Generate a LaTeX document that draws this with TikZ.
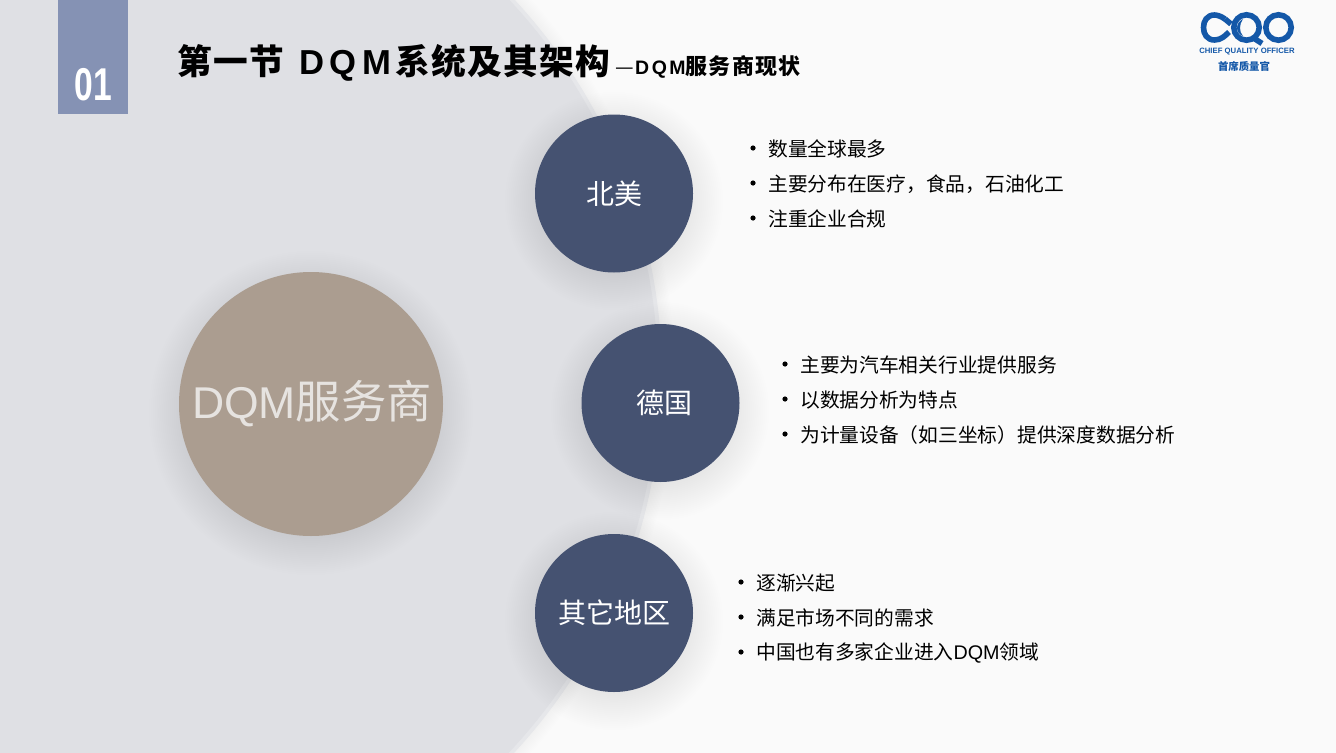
\documentclass[tikz,border=0pt]{standalone}
\usepackage{fontspec}
\setmainfont{Liberation Sans}
\newfontfamily\cjk{Noto Sans CJK SC}
\newfontfamily\cjkt[LetterSpace=4]{Noto Sans CJK SC}
\newfontfamily\cjks[LetterSpace=6]{Noto Sans CJK SC}
\newfontfamily\latt[LetterSpace=15]{Liberation Sans}
\newfontfamily\lats[LetterSpace=13]{Liberation Sans}
\definecolor{bgc}{HTML}{FAFAFA}
\definecolor{bigc}{HTML}{DFE0E4}
\definecolor{rimc}{HTML}{E6E7EA}
\definecolor{blockc}{HTML}{8592B4}
\definecolor{bluec}{HTML}{455271}
\definecolor{mainc}{HTML}{AB9D90}
\definecolor{maint}{HTML}{E6E3E0}
\definecolor{logoc}{HTML}{1458A8}
\newcommand{\softshadow}[3]{%
  \foreach \k in {1,...,24}{\fill[black,opacity=.0026] (#1,#2) circle ({#3+32-\k*1.9});}}
\tikzset{
  px/.style={x=.75pt,y=-.75pt},
  disc/.style={circle,minimum size=158*.75pt,inner sep=0pt,fill=bluec,text=white,font=\cjk\fontsize{21}{21}\selectfont},
  maindisc/.style={circle,minimum size=264*.75pt,inner sep=0pt,fill=mainc,text=maint,font=\fontsize{34}{34}\selectfont},
  line/.style={anchor=west,inner sep=0pt,text=black,font=\cjk\fontsize{14.8}{16}\selectfont},
  dotn/.style={circle,fill=black,inner sep=0pt,minimum size=3.9pt},
  ttl/.style={anchor=west,inner sep=0pt,text=black}
}
\begin{document}
\begin{tikzpicture}[px]
\useasboundingbox (0,0) rectangle (1336,753);
\clip (0,0) rectangle (1336,753);
\fill[bgc] (0,0) rectangle (1336,753);
% big background disc
\foreach \k in {1,...,10}{\fill[black,opacity=.003] (108,376) circle ({554+14-\k*1.4});}
\fill[rimc] (108,376) circle (554);
\fill[bigc] (108,376) circle (550);
% block
\fill[blockc] (58,0) rectangle (128,114);
\node[inner sep=0pt,text=white] (num) at (93.5,85) {\fontsize{30}{30}\selectfont\bfseries\scalebox{.84}[1.15]{01}};
% title
\node[ttl] (title) at (177,63) {\fontsize{26}{28}\selectfont\bfseries\cjkt 第一节\hspace{11.7pt}{\latt DQM}\hspace{3.5pt}系统及其架构};
\node[ttl] (subtitle) at (615,67) {\fontsize{15.6}{18}\selectfont\cjk —\bfseries\cjks\hspace{1pt}{\fontsize{14.6}{18}\selectfont\lats DQM}\fontsize{16.5}{18}\selectfont 服务商现状};
% shadows
\softshadow{311}{413}{132}
\softshadow{614}{201}{79}
\softshadow{660}{411}{79}
\softshadow{614}{621}{79}
% discs
\node[maindisc] (main) at (311,404) {\hspace{1.5pt}{\fontsize{33.4}{34}\selectfont DQM}{\cjk 服务商}};
\node[disc] (na) at (614,193.5) {北美};
\node[disc] (de) at (660.5,403) {\hspace{6pt}德国};
\node[disc] (ot) at (614,613) {其它地区};
% bullets
\node[dotn] (a1d) at (753,148) {}; \node[line] (a1) at (768,149) {数量全球最多};
\node[dotn] (a2d) at (753,183) {}; \node[line] (a2) at (768,184) {主要分布在医疗，食品，石油化工};
\node[dotn] (a3d) at (753,218) {}; \node[line] (a3) at (768,219) {注重企业合规};
\node[dotn] (b1d) at (785,364) {}; \node[line] (b1) at (800,365) {主要为汽车相关行业提供服务};
\node[dotn] (b2d) at (785,399) {}; \node[line] (b2) at (800,400) {以数据分析为特点};
\node[dotn] (b3d) at (785,434) {}; \node[line] (b3) at (800,435) {为计量设备（如三坐标）提供深度数据分析};
\node[dotn] (c1d) at (741,582) {}; \node[line] (c1) at (756,583) {逐渐兴起};
\node[dotn] (c2d) at (741,617) {}; \node[line] (c2) at (756,618) {满足市场不同的需求};
\node[dotn] (c3d) at (741,652) {}; \node[line] (c3) at (756,653) {中国也有多家企业进入{\rmfamily DQM}领域};
% logo
\begin{scope}[logoc,line width=4.2pt]
\draw (1225,19) .. controls (1220,15.5) and (1216,15) .. (1214.5,15) .. controls (1207,15) and (1203.5,21) .. (1203.5,27.5) .. controls (1203.5,34) and (1207,40) .. (1214.5,40) .. controls (1221,40) and (1225,36) .. (1229,32);
\draw (1225,19) -- (1231,24);
\draw (1246.5,27.5) circle (12.7);
\draw (1278.5,27.5) circle (12.7);
\draw (1252,37) -- (1262,43.5);
\end{scope}
\fill[logoc] (1243,19) .. controls (1235,23) and (1235,33) .. (1243,36) .. controls (1239,32) and (1239,24) .. (1243,19) -- cycle;
\node[inner sep=0pt,text=logoc] (logo1) at (1247,52) {\fontsize{5.8}{6}\selectfont\bfseries CHIEF QUALITY OFFICER};
\node[inner sep=0pt,text=logoc] (logo2) at (1244,66) {\fontsize{7.8}{8}\selectfont\bfseries\cjk 首席质量官};
\end{tikzpicture}
\end{document}
